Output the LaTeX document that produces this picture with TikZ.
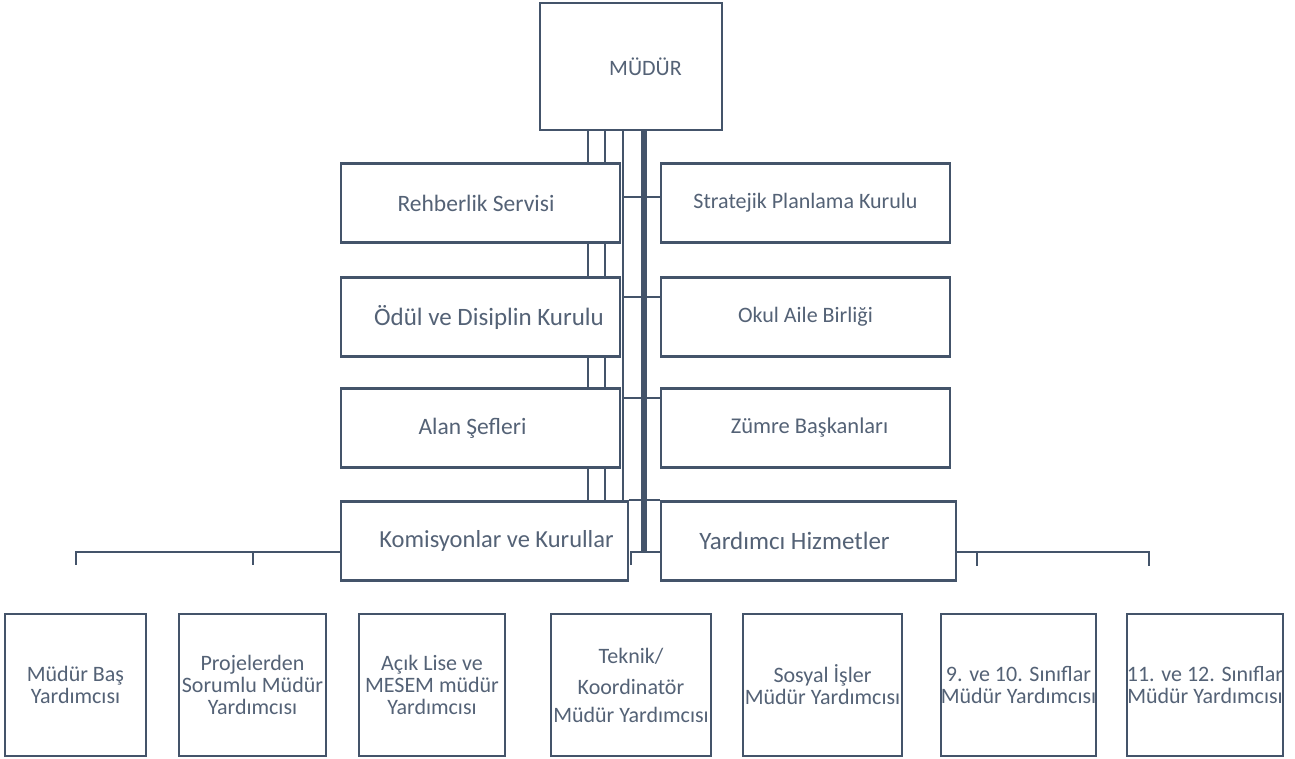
\documentclass[tikz,border=0pt]{standalone}
\usepackage{fontspec}
\setmainfont{Carlito}
\usetikzlibrary{positioning,backgrounds}
\definecolor{OrgLine}{RGB}{68,84,106}
\definecolor{OrgText}{RGB}{84,98,118}

\begin{document}
\begin{tikzpicture}[
    x=1pt, y=-1pt,
    every node/.style={font=\fontsize{22}{22}\selectfont, text=OrgText},
    textsize/.style={font=\fontsize{#1}{22}\selectfont},
    unitbox/.style={draw=OrgLine, line width=2.4pt, fill=white, inner sep=0pt, align=center},
    rowbox/.style={unitbox, minimum height=79pt},
    deputybox/.style={unitbox, minimum height=142pt},
    link/.style={OrgLine, line width=2pt},
    trunk/.style={OrgLine, line width=5.5pt}
]
\useasboundingbox (0,0) rectangle (1295,758);

% head
\node[unitbox, minimum width=182pt, minimum height=127pt] (mudur) at (631,66.5) {\hspace*{29pt}MÜDÜR};

% middle rows
\node[rowbox, textsize=23.5, minimum width=279pt] (rehber) at (480.5,203) {Rehberlik Servisi\hspace*{9pt}};
\node[rowbox, textsize=22, minimum width=289pt] (strat) at (805.5,203) {Stratejik Planlama Kurulu};
\node[rowbox, textsize=25, minimum width=279pt] (odul) at (480.5,317) {\hspace*{17pt}Ödül ve Disiplin Kurulu};
\node[rowbox, textsize=22, minimum width=289pt] (okul) at (805.5,317) {Okul Aile Birliği};
\node[rowbox, textsize=23.5, minimum width=279pt] (alan) at (480.5,428) {Alan Şefleri\hspace*{16pt}};
\node[rowbox, textsize=22.5, minimum width=289pt] (zumre) at (805.5,428) {\hspace*{8pt}Zümre Başkanları};
\node[rowbox, textsize=24.5, minimum width=287pt] (komis) at (484.5,541) {\hspace*{24pt}Komisyonlar ve Kurullar};
\node[rowbox, textsize=25, minimum width=295pt] (yard) at (808.5,541) {Yardımcı Hizmetler\hspace*{28pt}};

% deputies
\node[deputybox, minimum width=141pt] (b1) at (75.5,685) {Müdür Baş\\Yardımcısı};
\node[deputybox, minimum width=147pt] (b2) at (252.5,685) {Projelerden\\Sorumlu Müdür\\Yardımcısı};
\node[deputybox, minimum width=146pt] (b3) at (432,685) {Açık Lise ve\\MESEM müdür\\Yardımcısı};
\node[deputybox, minimum width=160pt] (b4) at (631,685) {Teknik/\\[9pt]Koordinatör\\[6pt]Müdür Yardımcısı};
\node[deputybox, minimum width=159pt] (b5) at (822.5,685) {Sosyal İşler\\Müdür Yardımcısı};
\node[deputybox, minimum width=151pt] (b6) at (1018.5,685) {9. ve 10. Sınıflar\\Müdür Yardımcısı};
\node[deputybox, minimum width=156pt] (b7) at (1205,685) {11. ve 12. Sınıflar\\Müdür Yardımcısı};

% connectors
\coordinate (lbus) at (0,552);
\coordinate (tk) at (644,0);
\coordinate (j1) at (623,197);
\coordinate (j2) at (623,297);
\coordinate (j3) at (623,398);
\coordinate (rtick) at (977,552);
\coordinate (rend) at (1149,552);
\begin{scope}[on background layer]
    \foreach \x [count=\i] in {588,605,623} {
        \coordinate (v\i) at (\x,0);
        \draw[link] (mudur.south -| v\i) -- (komis.north -| v\i);
    }
\end{scope}
\draw[trunk] (mudur.south -| tk) -- (tk |- lbus);
\draw[link] (j1) -- (j1 -| strat.west);
\draw[link] (j2) -- (j2 -| okul.west);
\draw[link] (j3) -- (j3 -| zumre.west);
\draw[link] (komis.north east) -- (yard.north west);
\draw[link] ([yshift=-13pt]b4.north |- lbus) -- (b4.north |- lbus) -- (yard.west |- lbus);
\draw[link] (komis.west |- lbus) -- (b1.north |- lbus) -- ++(0,13);
\draw[link] (b2.north |- lbus) -- ++(0,13);
\draw[link] (yard.east |- lbus) -- (rend) -- ++(0,14);
\draw[link] (rtick) -- ++(0,14);
\end{tikzpicture}
\end{document}
